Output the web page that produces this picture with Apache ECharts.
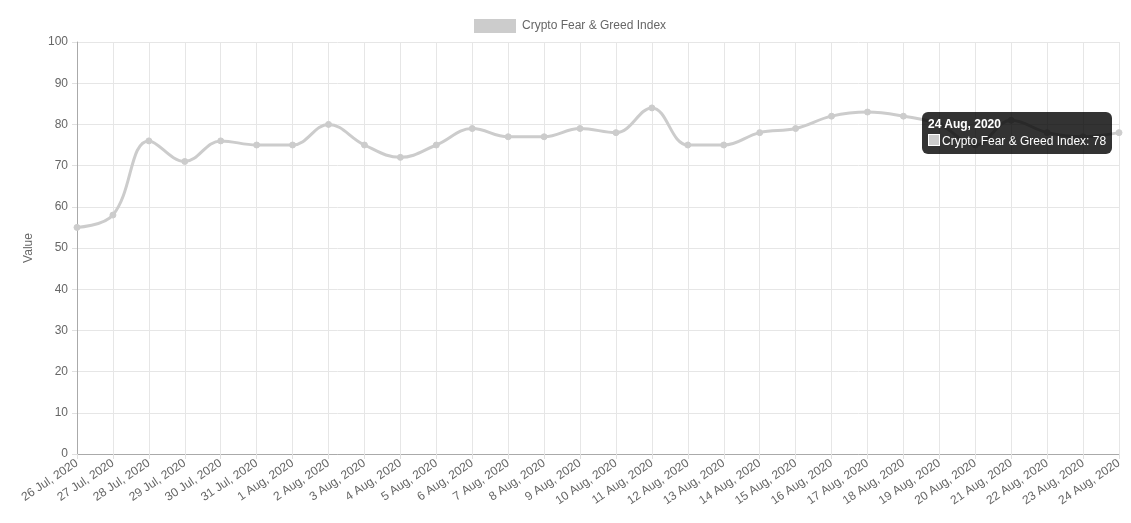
<!DOCTYPE html>
<html>
<head>
<meta charset="utf-8">
<script src="https://cdn.jsdelivr.net/npm/echarts@6/dist/echarts.min.js"></script>
<style>
html,body{margin:0;padding:0;background:#fff;}
#chart{width:1131px;height:523px;}
</style>
</head>
<body>
<div id="chart"></div>
<script>
const categories = ['26 Jul, 2020','27 Jul, 2020','28 Jul, 2020','29 Jul, 2020','30 Jul, 2020','31 Jul, 2020',
  '1 Aug, 2020','2 Aug, 2020','3 Aug, 2020','4 Aug, 2020','5 Aug, 2020','6 Aug, 2020','7 Aug, 2020','8 Aug, 2020',
  '9 Aug, 2020','10 Aug, 2020','11 Aug, 2020','12 Aug, 2020','13 Aug, 2020','14 Aug, 2020','15 Aug, 2020',
  '16 Aug, 2020','17 Aug, 2020','18 Aug, 2020','19 Aug, 2020','20 Aug, 2020','21 Aug, 2020','22 Aug, 2020',
  '23 Aug, 2020','24 Aug, 2020'];
const fearGreed = [55,58,76,71,76,75,75,80,75,72,75,79,77,77,79,78,84,75,75,78,79,82,83,82,80,75,81,78,77,78];
const seriesName = 'Crypto Fear & Greed Index';
const yAxisName = 'Value';

const FONT = '"Liberation Sans", Arial, Helvetica, sans-serif';
const chart = echarts.init(document.getElementById('chart'), null, {renderer:'canvas'});
chart.setOption({
  animation:false,
  textStyle:{fontFamily:FONT},
  legend:{
    top:14, left:469,
    itemWidth:42, itemHeight:14, itemGap:10,
    icon:'rect',
    data:[{name:seriesName, itemStyle:{color:'#cccccc', borderColor:'#cccccc'}}],
    textStyle:{color:'#666', fontSize:12, fontFamily:FONT, padding:[0,0,0,1]}
  },
  grid:{left:77, right:12, top:42, bottom:69, containLabel:false},
  tooltip:{
    trigger:'item',
    alwaysShowContent:true,
    position:[922,112],
    backgroundColor:'rgba(0,0,0,0.8)',
    borderWidth:0,
    borderRadius:6,
    padding:[4,6],
    extraCssText:'box-shadow:none;',
    textStyle:{color:'#fff', fontFamily:FONT, fontSize:12},
    formatter:function(p){
      return '<div style="font-family:Liberation Sans,Arial;line-height:17px;color:#fff">'+
        '<div style="font-weight:bold;font-size:12px">'+p.name+'</div>'+
        '<div style="font-size:12px"><span style="display:inline-block;width:10px;height:10px;background:#ccc;border:1px solid #fff;vertical-align:-1px;margin-right:2px"></span>'+
        p.seriesName+': '+p.value+'</div></div>';
    }
  },
  xAxis:{
    type:'category',
    data:categories,
    boundaryGap:false,
    axisLine:{show:true, lineStyle:{color:'#aaa', width:1}},
    axisTick:{show:true, length:5, alignWithLabel:true, interval:0, lineStyle:{color:'#e0e0e0'}},
    splitLine:{show:true, interval:0, lineStyle:{color:'#e6e6e6', width:1}},
    axisLabel:{interval:0, rotate:34, color:'#666', fontSize:12, fontFamily:FONT, margin:8}
  },
  yAxis:{
    type:'value',
    min:0, max:100, interval:10,
    name:yAxisName,
    nameLocation:'middle',
    nameGap:42,
    nameRotate:90,
    nameTextStyle:{color:'#666', fontSize:12, fontFamily:FONT},
    axisLine:{show:true, lineStyle:{color:'#aaa', width:1}},
    axisTick:{show:true, length:5, lineStyle:{color:'#e0e0e0'}},
    splitLine:{show:true, lineStyle:{color:'#e6e6e6', width:1}},
    axisLabel:{color:'#666', fontSize:12, fontFamily:FONT, margin:9}
  },
  series:[{
    name:seriesName,
    type:'line',
    data:fearGreed,
    smooth:0.4,
    symbol:'circle',
    symbolSize:6,
    lineStyle:{color:'#cccccc', width:3},
    itemStyle:{color:'#cccccc', borderColor:'#cccccc'},
    emphasis:{scale:1.4, lineStyle:{width:3}, itemStyle:{color:'#cccccc'}}
  }]
});
chart.dispatchAction({type:'showTip', seriesIndex:0, dataIndex:29});
</script>
</body>
</html>
